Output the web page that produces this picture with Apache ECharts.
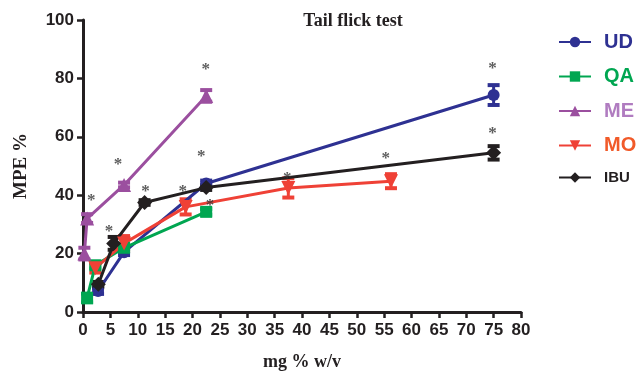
<!DOCTYPE html>
<html><head><meta charset="utf-8">
<script src="https://cdn.jsdelivr.net/npm/echarts@6/dist/echarts.min.js"></script>
<style>html,body{margin:0;padding:0;background:#fff}#c{width:637px;height:376px}</style>
</head><body><div id="c"></div>
<script>
// ---- data ----
const seriesNames = ['UD', 'QA', 'ME', 'MO', 'IBU'];
const udX = [2.75, 7.5, 22.5, 75];
const udY = [7.2, 20.5, 44, 74.3];
const udErr = [1, 1, 1, 3.4];
const qaX = [0.75, 2.25, 7.5, 22.5];
const qaY = [4.8, 16, 22, 34.3];
const qaErr = [1.5, 1, 1, 1];
const meX = [0.25, 0.75, 7.5, 22.5];
const meY = [20, 32, 43.5, 74];
const meErr = [2, 1.5, 0.8, 2];
const moX = [2.25, 7.5, 18.75, 37.5, 56.25];
const moY = [15, 23.5, 36, 42.5, 44.8];
const moErr = [1.5, 2.5, 2.6, 3.3, 2.4];
const ibuX = [2.8, 5.6, 11.25, 22.5, 75];
const ibuY = [9.5, 23.5, 37.5, 42.6, 54.5];
const ibuErr = [0.8, 2.2, 0.8, 0.8, 2.3];
// significance asterisks (x, y)
const starX = [1.5, 6.4, 22.4, 21.6, 4.75, 11.4, 18.2, 23.2, 37.3, 55.3, 74.8, 74.8];
const starY = [40, 52.2, 84.8, 54.9, 29.3, 42.9, 43.1, 38, 47.4, 54.3, 85.2, 62.9];
const xTicks = {min: 0, max: 80, interval: 5};
const yTicks = {min: 0, max: 100, interval: 20};

const colors = {UD: '#2e3192', QA: '#00a651', ME: '#9b4f9f', MO: '#ef4136', IBU: '#231f20'};
const textColors = {UD: '#2e3192', QA: '#00a651', ME: '#b07cc0', MO: '#f15a29', IBU: '#231f20'};
const symbols = {UD: 'circle', QA: 'rect', ME: 'triangle', MO: 'triangle', IBU: 'diamond'};
const rotates = {UD: 0, QA: 0, ME: 0, MO: 180, IBU: 0};
const sets = {
  UD: [udX, udY, udErr], QA: [qaX, qaY, qaErr], ME: [meX, meY, meErr],
  MO: [moX, moY, moErr], IBU: [ibuX, ibuY, ibuErr]
};

const series = [];
seriesNames.forEach(function (n) {
  const [xs, ys, es] = sets[n];
  series.push({
    type: 'custom', name: n + '_err', silent: true, z: 3,
    data: xs.map((x, i) => [x, ys[i], es[i]]),
    renderItem: function (params, api) {
      const x = api.value(0), y = api.value(1), e = api.value(2);
      const top = api.coord([x, y + e]);
      const bot = api.coord([x, y - e]);
      const hw = 6;
      const st = {stroke: colors[n], lineWidth: 3};
      const cap = {stroke: colors[n], lineWidth: 4};
      return {type: 'group', children: [
        {type: 'line', shape: {x1: top[0], y1: top[1], x2: bot[0], y2: bot[1]}, style: st},
        {type: 'line', shape: {x1: top[0] - hw, y1: top[1], x2: top[0] + hw, y2: top[1]}, style: cap},
        {type: 'line', shape: {x1: bot[0] - hw, y1: bot[1], x2: bot[0] + hw, y2: bot[1]}, style: cap}
      ]};
    }
  });
  series.push({
    type: 'line', name: n, z: 4,
    data: xs.map((x, i) => [x, ys[i]]),
    symbol: symbols[n], symbolRotate: rotates[n],
    symbolSize: n === 'IBU' ? 15 : (n === 'ME' || n === 'MO' ? 14 : 12),
    showSymbol: true,
    lineStyle: {color: colors[n], width: 3},
    itemStyle: {color: colors[n], borderWidth: 0},
    emphasis: {disabled: true}
  });
});
series.push({
  type: 'scatter', name: 'stars', symbolSize: 0, z: 5, silent: true,
  data: starX.map((x, i) => [x, starY[i]]),
  label: {show: true, formatter: '*', position: 'inside', offset: [0, 5],
    fontFamily: 'Liberation Serif', fontWeight: 'bold', fontSize: 17, color: '#333'}
});

const tickFont = {fontFamily: 'Liberation Sans Narrow, Liberation Sans, Arial', fontWeight: 'bold', fontSize: 17, color: '#231f20'};

const chart = echarts.init(document.getElementById('c'), null, {renderer: 'canvas'});
chart.setOption({
  animation: false,
  backgroundColor: '#fff',
  title: {text: 'Tail flick test', left: 348, top: 7, textAlign: 'center',
    textStyle: {fontFamily: 'Liberation Serif', fontWeight: 'bold', fontSize: 18, color: '#231f20'}},
  grid: {left: 83, right: 116, top: 20, bottom: 64, containLabel: false},
  legend: {
    orient: 'vertical', left: 553, top: 27, itemWidth: 32, itemHeight: 13, itemGap: 14.5,
    data: seriesNames.map(n => ({name: n, textStyle: {
      color: textColors[n], fontFamily: 'Liberation Sans, Arial', fontWeight: 'bold',
      fontSize: n === 'IBU' ? 15 : 20, lineHeight: 14}})),
    textStyle: {padding: [0, 0, 0, 8]}
  },
  xAxis: {
    type: 'value', min: xTicks.min, max: xTicks.max, interval: xTicks.interval,
    name: 'mg % w/v', nameLocation: 'middle', nameGap: 41,
    nameTextStyle: {fontFamily: 'Liberation Serif', fontWeight: 'bold', fontSize: 18, color: '#231f20'},
    axisLine: {lineStyle: {color: '#231f20', width: 3}},
    axisTick: {inside: false, length: 6, lineStyle: {color: '#231f20', width: 2.5}},
    axisLabel: Object.assign({margin: 10}, tickFont),
    splitLine: {show: false}
  },
  yAxis: {
    type: 'value', min: yTicks.min, max: yTicks.max, interval: yTicks.interval,
    name: 'MPE %', nameLocation: 'middle', nameGap: 52,
    nameTextStyle: {fontFamily: 'Liberation Serif', fontWeight: 'bold', fontSize: 19, color: '#231f20'},
    axisLine: {show: true, lineStyle: {color: '#231f20', width: 3}},
    axisTick: {show: true, inside: false, length: 6, lineStyle: {color: '#231f20', width: 2.5}},
    axisLabel: Object.assign({margin: 9}, tickFont),
    splitLine: {show: false}
  },
  series: series
});
</script>
</body></html>
